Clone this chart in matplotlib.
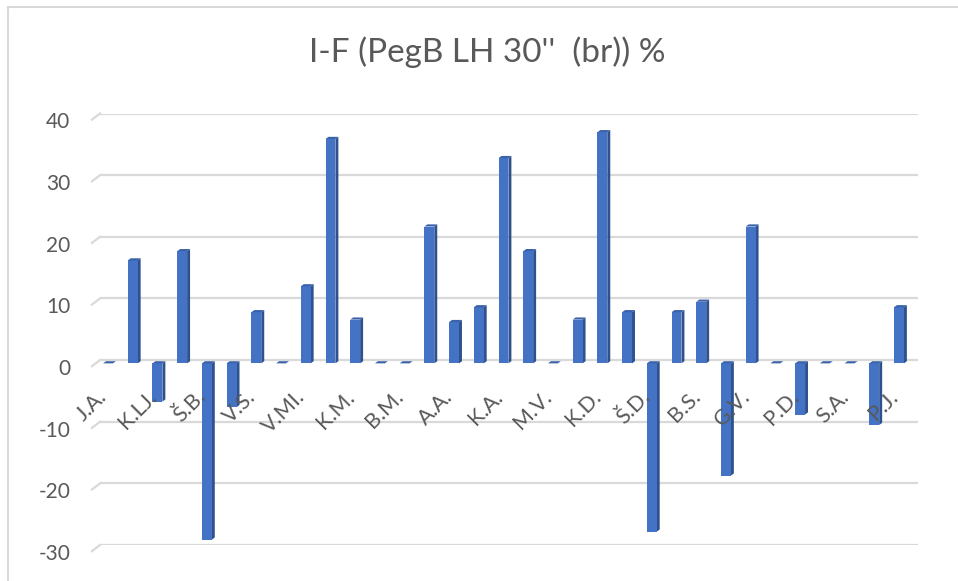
import numpy as np
import matplotlib
matplotlib.use('Agg')
import matplotlib.pyplot as plt
from matplotlib.patches import Polygon, Rectangle
from matplotlib.transforms import ScaledTranslation, offset_copy

plt.rcParams['font.family'] = ['Lato', 'DejaVu Sans']
plt.rcParams['axes.unicode_minus'] = False

title = "I-F (PegB LH 30''  (br)) %"
values = [0, 16.7, -6.2, 18.2, -28.6, -7.1, 8.3, 0, 12.5, 36.4, 7.1,
          0, 0, 22.2, 6.7, 9.1, 33.3, 18.2, 0, 7.1, 37.5, 8.3,
          -27.3, 8.3, 10.0, -18.2, 22.2, 0, -8.3, 0, 0, -10.0, 9.1]
shown_labels = ['J.A.', 'K.LJ.', 'Š.B.', 'V.S.', 'V.MI.', 'K.M.', 'B.M.', 'A.A.', 'K.A.',
                'M.V.', 'K.D.', 'Š.D.', 'B.S.', 'G.V.', 'P.D.', 'S.A.', 'P.J.']
yticks = [-30, -20, -10, 0, 10, 20, 30, 40]

front = '#4472C4'
side = '#2F528F'
cap = '#3A62AA'
grey = '#595959'
gridc = '#D9D9D9'

W, H = 958, 581
fig = plt.figure(figsize=(W / 100, H / 100), dpi=100)
ax = fig.add_axes([100 / W, 1 - 545 / H, 818 / W, (545 - 113.5) / H])

x = np.arange(len(values))
ax.set_xlim(-0.324, 32.77)
ax.set_ylim(-30, 40)

# gridlines on the back wall, with the slant of the floor on the left
for t in yticks:
    ax.axhline(t, color=gridc, lw=1.6, zorder=0)
    ax.plot([-0.65, -0.324], [t - 1.0, t], color=gridc, lw=1.6, clip_on=False, zorder=0)

# bars stand a little in front of the wall
front_tr = ax.transData + ScaledTranslation(0, -3.3 / 100, fig.dpi_scale_trans)

bw = 0.4
dx, dy = 0.12, 0.35
bars = ax.bar(x, values, width=bw, color=front, zorder=3)
for b in bars:
    b.set_transform(front_tr)
for xi, v in zip(x, values):
    r = xi + bw / 2
    l = xi - bw / 2
    ax.add_patch(Polygon([(r, 0), (r + dx, dy), (r + dx, v + dy), (r, v)],
                         closed=True, color=side, lw=0, zorder=2, transform=front_tr))
    top = max(v, 0)
    ax.add_patch(Polygon([(l, top), (l + dx, top + dy), (r + dx, top + dy), (r, top)],
                         closed=True, color=cap, lw=0, zorder=4, transform=front_tr))

ax.set_yticks(yticks)
ax.set_xticks([])
ax.tick_params(axis='y', length=0, pad=21.5, labelsize=15, labelcolor=grey)
for lab in ax.get_yticklabels():
    lab.set_transform(lab.get_transform() + ScaledTranslation(0, -5 / 72, fig.dpi_scale_trans))
for s in ax.spines.values():
    s.set_visible(False)

lab_tr = offset_copy(ax.transData, fig=fig, x=-8, y=-19, units='points')
for i, lab in zip(x[::2], shown_labels):
    ax.text(i, 0, lab, transform=lab_tr, rotation=45, ha='right', va='top',
            rotation_mode='anchor', fontsize=15.5, color=grey)

fig.text(487 / W, 1 - 52 / H, title, ha='center', va='center', fontsize=24, color=grey)
fig.add_artist(Rectangle((8 / W, -0.1), 2, 1 - 7 / H + 0.1, transform=fig.transFigure,
                         fill=False, edgecolor=gridc, lw=1.5))

fig.savefig('out.png', dpi=100)
